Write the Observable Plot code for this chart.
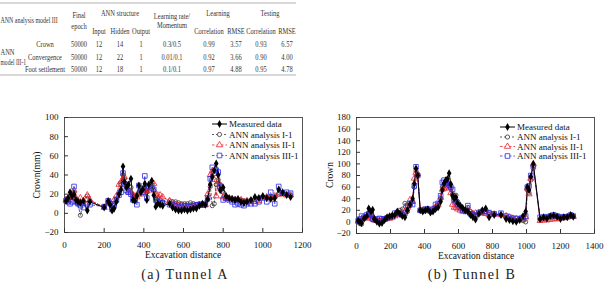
<!DOCTYPE html>
<html>
<head>
<meta charset="utf-8">
<script src="https://cdn.jsdelivr.net/npm/d3@7"></script>
<script src="https://cdn.jsdelivr.net/npm/@observablehq/plot@0.6"></script>
<style>
  body { margin: 0; background: #fff; }
  #page { position: relative; width: 608px; height: 290px; overflow: hidden;
          font-family: 'Liberation Serif', 'Times New Roman', serif; color: #111; }
  .abs { position: absolute; }
  .title { position: absolute; font-size: 9.5px; white-space: nowrap; transform: translate(-50%, -50%); }
  .ytitle { transform: translate(-50%, -50%) rotate(-90deg); }
  .caption { position: absolute; font-family: 'Liberation Serif', serif; font-size: 14px; letter-spacing: 1.4px;
             white-space: pre; transform: translate(-50%, -50%); color: #222; }
</style>
</head>
<body>
<div id="page"></div>
<script>
// ---- Table: ANN analysis model III ----
const tableRows  = ["Crown", "Convergence", "Foot settlement"];
const epochs     = [50000, 50000, 50000];
const inputs     = [12, 12, 12];
const hidden     = [14, 22, 18];
const outputs    = [1, 1, 1];
const rates      = ["0.3/0.5", "0.01/0.1", "0.1/0.1"];
const learnCorr  = ["0.99", "0.92", "0.97"];
const learnRmse  = ["3.57", "3.66", "4.88"];
const testCorr   = ["0.93", "0.90", "0.95"];
const testRmse   = ["6.57", "4.00", "4.78"];

// ---- Tunnel A: crown displacement (mm) vs excavation distance ----
const distA = [8, 18, 28, 38, 48, 58, 68, 80, 95, 115,
  128, 200, 220, 230, 240, 250, 262, 275, 285, 295,
  302, 312, 322, 335, 345, 355, 365, 375, 385, 395,
  405, 415, 425, 440, 450, 460, 470, 482, 495, 530,
  545, 560, 575, 590, 605, 620, 635, 650, 665, 680,
  695, 710, 722, 735, 745, 755, 765, 775, 785, 800,
  815, 830, 845, 860, 875, 890, 905, 920, 940, 960,
  980, 1000, 1020, 1040, 1060, 1080, 1100, 1120, 1140];
const measuredA = [13, 16, 22, 18, 20, 14, 12, 11, 13, 3,
  12, 6, 13, 9, 3, 5, 12, 20, 25, 49,
  33, 27, 30, 36, 14, 13, 18, 29, 22, 25,
  31, 14, 30, 34, 19, 7, 10, 9, 8, 10,
  6, 4, 3, 3, 4, 3, 4, 5, 5, 8,
  10, 9, 15, 30, 38, 45, 52, 40, 24, 27,
  18, 16, 15, 14, 15, 12, 11, 12, 14, 17,
  16, 18, 16, 15, 16, 25, 22, 19, 17];
const annA1 = [15, 14, 18, 17, 22, 15, 10, -2, 10, 18,
  13, 7, 12, 10, 5, 8, 15, 22, 30, 40,
  36, 30, 25, 27, 18, 17, 19, 22, 24, 26,
  28, 22, 27, 30, 24, 15, 16, 14, 12, 13,
  12, 12, 11, 10, 10, 10, 11, 10, 9, 10,
  10, 11, 14, 28, 8, 10, 30, 35, 30, 22,
  17, 16, 15, 15, 14, 14, 13, 13, 14, 15,
  16, 17, 17, 17, 17, 20, 21, 20, 19];
const annA2 = [14, 13, 17, 16, 24, 16, 12, 16, 13, 19,
  14, 6, 11, 12, 6, 14, 18, 30, 33, 35,
  38, 30, 22, 22, 19, 18, 17, 20, 20, 22,
  24, 23, 24, 33, 31, 20, 19, 19, 17, 13,
  11, 9, 8, 8, 7, 7, 7, 7, 8, 9,
  8, 9, 20, 40, 44, 35, 18, 33, 28, 17,
  15, 15, 15, 14, 14, 14, 12, 13, 12, 12,
  13, 17, 17, 16, 18, 20, 20, 19, 19];
const annA3 = [13, 12, 10, 12, 28, 12, 10, 8, 6, 10,
  9, 7, 13, 10, 4, 8, 14, 19, 22, 42,
  30, 24, 22, 20, 14, 14, 9, 29, 26, 22,
  39, 16, 28, 26, 25, 14, 12, 11, 11, 9,
  9, 8, 7, 7, 8, 7, 7, 8, 9, 9,
  9, 9, 16, 36, 48, 42, 45, 43, 28, 14,
  16, 14, 12, 9, 10, 9, 8, 10, 10, 10,
  12, 16, 12, 22, 10, 28, 21, 22, 21];

// ---- Tunnel B: crown displacement vs excavation distance ----
const distB = [10, 20, 30, 45, 60, 72, 85, 95, 105, 120,
  135, 150, 165, 180, 195, 210, 225, 240, 255, 270,
  285, 300, 315, 330, 340, 350, 360, 375, 390, 405,
  420, 435, 450, 465, 480, 495, 505, 515, 525, 535,
  545, 555, 565, 575, 585, 595, 610, 625, 640, 655,
  670, 685, 700, 720, 740, 760, 780, 810, 850, 880,
  900, 920, 940, 960, 980, 995, 1005, 1015, 1025, 1040, 1080,
  1100, 1120, 1140, 1160, 1180, 1200, 1220, 1240, 1260, 1275];
const measuredB = [2, 0, -2, 6, 10, 23, 18, 21, 5, 0,
  -3, -2, 3, 8, 10, 11, 12, 18, 14, 10,
  8, 20, 30, 40, 66, 92, 80, 20, 18, 20,
  22, 16, 18, 22, 25, 35, 55, 66, 72, 74,
  84, 65, 45, 40, 42, 32, 28, 24, 20, 18,
  12, 8, 4, 14, 20, 23, 8, 12, 12, 5,
  3, 1, 0, 3, 10, 18, 60, 55, 78, 100, 5,
  8, 6, 10, 11, 9, 5, 8, 8, 12, 9];
const annB1 = [0, -3, -4, 5, 8, 15, 12, 10, 6, 3,
  2, 3, 5, 6, 8, 10, 12, 14, 20, 22,
  32, 18, 28, 35, 60, 88, 82, 20, 18, 19,
  20, 17, 20, 25, 28, 40, 60, 65, 70, 68,
  65, 58, 48, 45, 46, 35, 28, 22, 20, 25,
  18, 15, 12, 14, 16, 18, 16, 14, 12, 8,
  6, 4, 2, 4, 2, 0, 55, 50, 72, 96, 4,
  6, 8, 9, 10, 10, 8, 9, 10, 11, 10];
const annB2 = [1, 0, 5, 8, 6, 10, 8, 5, 3, 2,
  2, 3, 4, 6, 6, 8, 10, 12, 14, 15,
  18, 25, 38, 35, 75, 85, 82, 20, 20, 20,
  21, 18, 22, 26, 30, 42, 56, 58, 62, 60,
  58, 50, 30, 25, 25, 22, 20, 18, 20, 18,
  17, 14, 15, 16, 15, 14, 12, 13, 12, 10,
  8, 6, 5, 5, 4, 8, 58, 48, 75, 100, 2,
  3, 3, 4, 5, 5, 6, 7, 8, 10, 9];
const annB3 = [2, 5, 10, 8, 12, 14, 12, 5, 4, 5,
  6, 5, 5, 7, 8, 9, 15, 16, 14, 12,
  15, 28, 32, 30, 62, 95, 80, 20, 20, 22,
  22, 20, 22, 30, 32, 45, 68, 72, 68, 66,
  64, 60, 56, 38, 35, 30, 25, 20, 18, 28,
  14, 12, 10, 16, 18, 18, 16, 14, 15, 10,
  8, 6, 6, 5, 8, 10, 60, 62, 80, 95, 8,
  8, 9, 10, 12, 10, 9, 8, 9, 12, 10];

const ticksA_x = [0, 200, 400, 600, 800, 1000, 1200];
const ticksA_y = [-20, 0, 20, 40, 60, 80, 100];
const ticksB_x = [0, 200, 400, 600, 800, 1000, 1200, 1400];
const ticksB_y = [-20, 0, 20, 40, 60, 80, 100, 120, 140, 160, 180];

const seriesNames = ["Measured data", "ANN analysis I-1", "ANN analysis II-1", "ANN analysis III-1"];
const seriesStyle = [
  {color: "#000", symbol: "diamond", r: 2.4, fill: "#000", dash: null},
  {color: "#333", symbol: "circle", r: 2.1, fill: "none", dash: "2,2"},
  {color: "#e8202a", symbol: "triangle", r: 2.3, fill: "none", dash: "2.5,2"},
  {color: "#2a2ae6", symbol: "square", r: 2.6, fill: "none", dash: "2.5,2"}
];

const page = document.getElementById("page");
const SERIF = "'Liberation Serif', 'Times New Roman', serif";

// ---- table ----
const svgT = d3.select(page).append("svg").attr("class", "abs")
  .style("left", "0px").style("top", "0px").attr("width", 300).attr("height", 80)
  .style("font-family", SERIF).style("font-size", "8.5px").style("fill", "#333");
function cell(x, y, s, anchor = "middle", sx = 0.76) {
  svgT.append("text").attr("transform", `translate(${x},${y}) scale(${sx},1)`)
    .attr("text-anchor", anchor).attr("dy", "0.33em").text(s);
}
svgT.append("line").attr("x1", 0).attr("x2", 296).attr("y1", 3).attr("y2", 3).attr("stroke", "#d8d8d8").attr("stroke-width", 2);
svgT.append("line").attr("x1", 0).attr("x2", 296).attr("y1", 75).attr("y2", 75).attr("stroke", "#d8d8d8").attr("stroke-width", 2);
cell(0.5, 20, "ANN analysis model III", "start", 0.7);
cell(79, 15, "Final"); cell(79, 26, "epoch");
cell(120, 13, "ANN structure");
cell(99, 31, "Input"); cell(120, 31, "Hidden"); cell(141, 31, "Output");
cell(172, 16, "Learning rate/"); cell(172, 25, "Momentum");
cell(218, 13, "Learning"); cell(270, 13, "Testing");
cell(209, 31, "Correlation"); cell(236, 31, "RMSE");
cell(261, 31, "Correlation"); cell(287, 31, "RMSE");
cell(0.5, 52, "ANN", "start");
cell(0.5, 62, "model III-1", "start", 0.66);
const rowY = [44, 57, 69];
tableRows.forEach((name, i) => {
  const y = rowY[i];
  cell(45, y, name);
  cell(79, y, String(epochs[i]));
  cell(99, y, String(inputs[i]));
  cell(120, y, String(hidden[i]));
  cell(141, y, String(outputs[i]));
  cell(172, y, rates[i]);
  cell(209, y, learnCorr[i]);
  cell(236, y, learnRmse[i]);
  cell(261, y, testCorr[i]);
  cell(287, y, testRmse[i]);
});

// ---- charts ----
function drawChart({left, top, width, height, margin, dist, values, xDomain, xTicks, yDomain, yTicks}) {
  const plotW = width - margin.left - margin.right;
  const plotH = height - margin.top - margin.bottom;
  const rows = (vals) => dist.map((d, i) => ({d, v: vals[i]}));
  const fmt = d3.format("d");
  const marks = [
    Plot.frame({stroke: "#555"}),
    Plot.tickX(xTicks, {x: (d) => d, insetTop: plotH - 4, stroke: "#333"}),
    Plot.tickY(yTicks, {y: (d) => d, insetRight: plotW - 4, stroke: "#333"}),
    Plot.axisX({ticks: xTicks, tickFormat: fmt, tickSize: 0, tickPadding: 9, label: null}),
    Plot.axisY({ticks: yTicks, tickFormat: fmt, tickSize: 0, tickPadding: 6, label: null})
  ];
  // dashed model lines, then the measured line
  for (let k = 1; k < 4; k++) {
    const s = seriesStyle[k];
    marks.push(Plot.line(rows(values[k]), {x: "d", y: "v", stroke: s.color, strokeWidth: 0.8, strokeDasharray: s.dash}));
  }
  marks.push(Plot.line(rows(values[0]), {x: "d", y: "v", stroke: "#000", strokeWidth: 1}));
  for (let k = 1; k < 4; k++) {
    const s = seriesStyle[k];
    marks.push(Plot.dot(rows(values[k]), {x: "d", y: "v", symbol: s.symbol, r: s.r, stroke: s.color, strokeWidth: 0.8, fill: "none"}));
  }
  marks.push(Plot.dot(rows(values[0]), {x: "d", y: "v", symbol: "diamond", r: seriesStyle[0].r, fill: "#000", stroke: "none"}));

  const svg = Plot.plot({
    width, height,
    marginLeft: margin.left, marginRight: margin.right, marginTop: margin.top, marginBottom: margin.bottom,
    x: {domain: xDomain, label: null},
    y: {domain: yDomain, label: null},
    style: {fontFamily: SERIF, fontSize: "9px", color: "#111", background: "transparent", overflow: "visible"},
    marks
  });
  svg.style.position = "absolute";
  svg.style.left = left + "px";
  svg.style.top = top + "px";
  page.appendChild(svg);
}

function drawLegend(x, ys) {
  const g = d3.select(page).append("svg").attr("class", "abs")
    .style("left", "0px").style("top", "0px").attr("width", 608).attr("height", 290)
    .style("overflow", "visible").style("pointer-events", "none");
  const symMap = {diamond: d3.symbolDiamond, circle: d3.symbolCircle, triangle: d3.symbolTriangle, square: d3.symbolSquare};
  seriesNames.forEach((name, k) => {
    const s = seriesStyle[k], y = ys[k];
    g.append("line").attr("x1", x).attr("x2", x + 15).attr("y1", y).attr("y2", y)
      .attr("stroke", s.color).attr("stroke-width", k === 0 ? 1 : 0.8)
      .attr("stroke-dasharray", s.dash);
    g.append("path").attr("transform", `translate(${x + 7.5},${y})`)
      .attr("d", d3.symbol(symMap[s.symbol], Math.PI * s.r * s.r)())
      .attr("fill", s.fill === "none" ? "#fff" : s.fill).attr("stroke", s.fill === "none" ? s.color : "none")
      .attr("stroke-width", 0.8);
    g.append("text").attr("x", x + 17).attr("y", y).attr("dy", "0.34em")
      .style("font-family", SERIF).style("font-size", "9px").style("fill", "#111")
      .text(name);
  });
}

drawChart({
  left: 0, top: 100, width: 310, height: 165,
  margin: {left: 64, right: 8, top: 17, bottom: 33},
  dist: distA, values: [measuredA, annA1, annA2, annA3],
  xDomain: [0, 1200], xTicks: ticksA_x, yDomain: [-20, 100], yTicks: ticksA_y
});
drawChart({
  left: 300, top: 100, width: 308, height: 165,
  margin: {left: 56, right: 14, top: 17, bottom: 32},
  dist: distB, values: [measuredB, annB1, annB2, annB3],
  xDomain: [0, 1400], xTicks: ticksB_x, yDomain: [-20, 180], yTicks: ticksB_y
});
drawLegend(212, [124, 134.5, 145, 155.5]);
drawLegend(500, [127, 137, 146.5, 156]);

function addText(cls, x, y, s) {
  const el = document.createElement("div");
  el.className = cls;
  el.style.left = x + "px";
  el.style.top = y + "px";
  el.textContent = s;
  page.appendChild(el);
}
addText("title", 183, 255, "Excavation distance");
addText("title ytitle", 37, 175, "Crown(mm)");
addText("title", 476, 256, "Excavation distance");
addText("title ytitle", 330, 175, "Crown");
addText("caption", 185, 275, "(a) Tunnel A");
addText("caption", 472, 275, "(b) Tunnel B");
</script>
</body>
</html>
